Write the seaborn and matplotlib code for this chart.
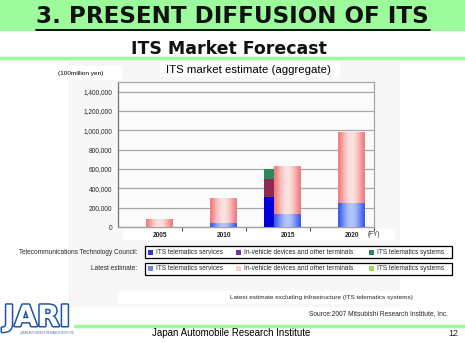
import numpy as np
import matplotlib
matplotlib.use("Agg")
import matplotlib.pyplot as plt
import seaborn as sns
from matplotlib.patches import Rectangle
from matplotlib.lines import Line2D
import matplotlib.patheffects as pe

# ---------------- data ----------------
years = ["2005", "2010", "2015", "2020"]
latest_services = [0, 40000, 130000, 250000]
latest_devices = [80000, 260000, 500000, 735000]
tc_services = [0, 0, 310000, 0]
tc_devices = [0, 0, 185000, 0]
tc_systems = [0, 0, 110000, 0]
yticks = [0, 200000, 400000, 600000, 800000, 1000000, 1200000, 1400000]

legend_labels = ["ITS telematics services", "In-vehicle devices and other terminals",
                 "ITS telematics systems"]

sns.set_theme(style="white")
plt.rcParams['font.family'] = ['Liberation Sans', 'DejaVu Sans']

W, H = 465, 343
fig = plt.figure(figsize=(W / 100, H / 100), dpi=100)
fig.patch.set_facecolor("white")

def fx(x):
    return x / W

def fy(y):
    return 1 - y / H

def frect(x0, y0, x1, y1, **kw):
    r = Rectangle((fx(x0), fy(y1)), (x1 - x0) / W, (y1 - y0) / H,
                  transform=fig.transFigure, **kw)
    fig.add_artist(r)
    return r

def fline(x0, y0, x1, y1, **kw):
    l = Line2D([fx(x0), fx(x1)], [fy(y0), fy(y1)], transform=fig.transFigure, **kw)
    fig.add_artist(l)
    return l

GREEN = "#9CFC9C"

# top band
frect(0, 0, 465, 31, facecolor=GREEN, edgecolor="none", zorder=-2)
fig.text(fx(232), fy(16.5), "3. PRESENT DIFFUSION OF ITS", ha="center", va="center",
         fontsize=16.6, fontweight="bold", family="DejaVu Sans", color="#111111")
fline(36, 29.5, 430, 29.5, color="black", lw=1.3)
fig.text(fx(229), fy(48.5), "ITS Market Forecast", ha="center", va="center",
         fontsize=12.5, fontweight="bold", family="DejaVu Sans", color="#111111")
fline(0, 57.5, 465, 57.5, color=GREEN, lw=2.5)

# grey panel
frect(68, 62, 400, 307, facecolor="#F7F7F7", edgecolor="none", zorder=-2)
frect(160, 61, 340, 77, facecolor="white", edgecolor="none", zorder=-1)
frect(57, 66, 122, 80, facecolor="white", edgecolor="none", zorder=-1)
frect(123, 229, 395, 240, facecolor="white", edgecolor="none", zorder=-1)
fig.text(fx(248), fy(70), "ITS market estimate (aggregate)", ha="center", va="center",
         fontsize=8.2, color="black")
fig.text(fx(58), fy(73), "(100million yen)", ha="left", va="center",
         fontsize=4.6, color="black")

# ---------------- chart ----------------
ax = fig.add_axes([fx(118), fy(227), 256 / W, 145 / H])
ax.set_facecolor("#FBFBFB")
x = np.arange(len(years))
off_latest, w_latest = 0.15, 0.42
off_tc, w_tc = -0.14, 0.16

def grad_img(edge, center, n=48):
    t = np.linspace(0, 1, n)
    s = 1 - (2 * t - 1) ** 2
    s = s ** 1.6
    e = np.array(edge) / 255.0
    c = np.array(center) / 255.0
    row = e[None, :] + (c - e)[None, :] * s[:, None]
    return row[None, :, :]

def gradient_bars(xpos, heights, bottoms, width, edge, center):
    bars = ax.bar(xpos, heights, width=width, bottom=bottoms, facecolor="none",
                  linewidth=0, zorder=3)
    img = grad_img(edge, center)
    for p, h in zip(bars.patches, heights):
        if h <= 0:
            continue
        x0 = p.get_x()
        y0 = p.get_y()
        im = ax.imshow(img, extent=[x0, x0 + p.get_width(), y0, y0 + p.get_height()],
                       aspect="auto", zorder=3, interpolation="bilinear")
        im.set_clip_path(p)
    return bars

xl = x + off_latest
gradient_bars(xl, latest_services, [0] * 4, w_latest, (58, 92, 235), (180, 198, 250))
gradient_bars(xl, latest_devices, latest_services, w_latest, (240, 125, 125), (252, 226, 226))

xt = x + off_tc
b1 = np.array(tc_services)
b2 = b1 + np.array(tc_devices)
ax.bar(xt, tc_services, width=w_tc, color="#0000DD", linewidth=0, zorder=3)
ax.bar(xt, tc_devices, width=w_tc, bottom=b1, color="#8E2A55", linewidth=0, zorder=3)
ax.bar(xt, tc_systems, width=w_tc, bottom=b2, color="#2A8A5A", linewidth=0, zorder=3)

ax.set_xlim(-0.5, 3.5)
ax.set_ylim(0, 1500000)
ax.set_yticks(yticks)
ax.set_yticklabels([f"{v:,}" for v in yticks], fontsize=4.7)
ax.set_xticks(x + off_latest)
ax.set_xticklabels(years, fontsize=4.7, fontweight="bold")
ax.set_xticks([0.5, 1.5, 2.5, 3.5], minor=True)
ax.tick_params(axis="x", which="major", length=0, pad=3.5)
ax.tick_params(axis="x", which="minor", length=3, width=0.8, color="#555555",
               direction="out", bottom=True)
ax.tick_params(axis="y", length=0, pad=4)
ax.yaxis.grid(True, color="#A8A8A8", linewidth=0.9, zorder=0)
ax.set_axisbelow(True)
for s in ["top", "right"]:
    ax.spines[s].set_color("#A8A8A8")
    ax.spines[s].set_linewidth(0.9)
ax.spines["left"].set_color("#707070")
ax.spines["left"].set_linewidth(0.9)
ax.spines["bottom"].set_color("#A0A0A0")
ax.spines["bottom"].set_linewidth(0.9)
fig.text(fx(368), fy(234.5), "(FY)", ha="left", va="center", fontsize=4.7)

# ---------------- legends ----------------
tc_cols = ["#3333CC", "#7030A0", "#2E8B57"]
lt_cols = ["#8080E0", "#FFCCCC", "#99DD55"]

def legend_row(yc, label, cols):
    frect(145, yc - 6, 452, yc + 6, facecolor="white", edgecolor="black", lw=0.9, zorder=1)
    fig.text(fx(137), fy(yc), label, ha="right", va="center", fontsize=4.7)
    for sx, col, txt in zip([148, 236, 369], cols, legend_labels):
        frect(sx, yc - 2.5, sx + 5, yc + 2.5, facecolor=col, edgecolor="none", zorder=2)
        fig.text(fx(sx + 7.5), fy(yc), txt, ha="left", va="center", fontsize=4.7)

legend_row(252, "Telecommunications Technology Council:", tc_cols)
legend_row(268.5, "Latest estimate:", lt_cols)

frect(118, 291, 400, 304, facecolor="white", edgecolor="none", zorder=-1)
fig.text(fx(321), fy(297.5), "Latest estimate excluding infrastructure (ITS telematics systems)",
         ha="center", va="center", fontsize=4.6)
fig.text(fx(448), fy(314), "Source:2007 Mitsubishi Research Institute, Inc.",
         ha="right", va="center", fontsize=4.8)

# ---------------- footer ----------------
fline(75, 325.5, 465, 325.5, color=GREEN, lw=2.5)
fig.text(fx(231), fy(333.5), "Japan Automobile Research Institute", ha="center", va="center",
         fontsize=7, color="black")
fig.text(fx(458), fy(333.5), "12", ha="right", va="center", fontsize=6.5)

logo = fig.text(fx(37), fy(318), "JARI", ha="center", va="center", fontsize=21,
                fontweight="bold", family="DejaVu Sans", color="white")
logo.set_path_effects([pe.Stroke(linewidth=2.2, foreground="#1F55A5"), pe.Normal()])
fig.text(fx(47), fy(333), "JAPAN AUTOMOBILE RESEARCH INSTITUTE", ha="center", va="center",
         fontsize=1.8, color="#4466AA")

fig.savefig("out.png", dpi=100, facecolor="white")
